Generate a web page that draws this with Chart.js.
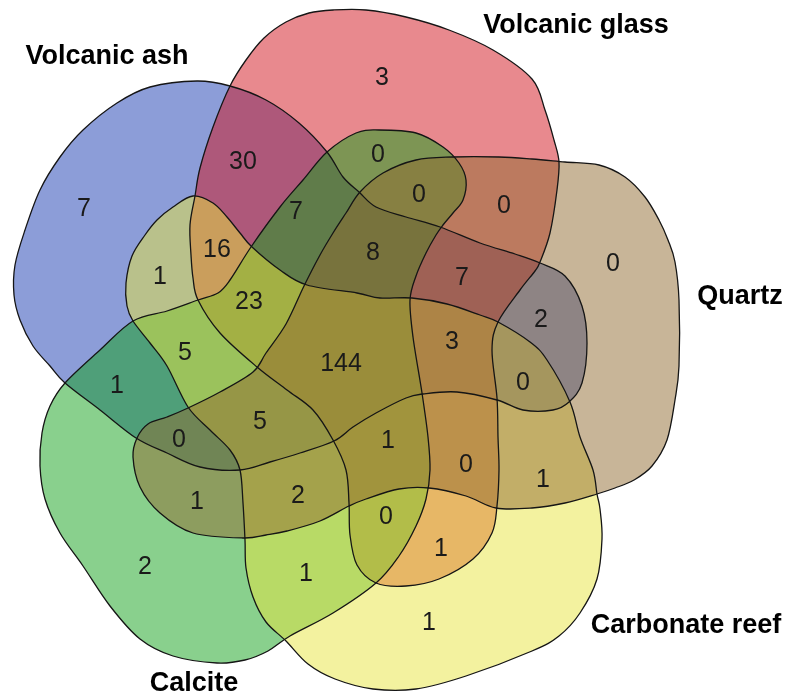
<!DOCTYPE html>
<html>
<head>
<meta charset="utf-8">
<script src="https://cdn.jsdelivr.net/npm/chart.js@4.4.0/dist/chart.umd.min.js"></script>
<style>
  html, body { margin: 0; padding: 0; background: #fff; }
  canvas { display: block; }
</style>
</head>
<body>
<canvas id="venn" width="798" height="699"></canvas>
<script>
// Conjuntos y conteos por region (0=ash, 1=glass, 2=quartz, 3=reef, 4=calcite)
const setNames = ["Volcanic ash", "Volcanic glass", "Quartz", "Carbonate reef", "Calcite"];
const regionSets = [
  [0], [1], [2], [3], [4],
  [0, 1], [1, 4], [1, 2, 4], [1, 2], [0, 1, 4], [0, 1, 3], [0, 1, 2, 4], [0, 1, 2],
  [0, 3], [0, 1, 3, 4], [0, 2], [0, 3, 4], [0, 1, 2, 3, 4], [0, 1, 2, 3], [0, 2, 3],
  [0, 4], [0, 2, 3, 4], [0, 2, 4], [1, 2, 3, 4], [1, 2, 3], [2, 3], [2, 4], [2, 3, 4],
  [1, 3, 4], [1, 3], [3, 4]
];
const regionCounts = [
  7, 3, 0, 1, 2,
  30, 0, 0, 0, 7, 16, 8, 7,
  1, 23, 2, 5, 144, 3, 0,
  1, 5, 0, 1, 0, 1, 1, 2,
  0, 1, 1
];

// Layout: contornos de cada conjunto (coordenadas del lienzo)
const outlines = [
  [[197,81],[150,87],[117,103],[83,130],[60,157],[40,190],[25,230],[15,265],[14,295],[20,320],[33,346],[50,366],[65,383],
   [100,410],[136,438],[167,453],[200,467],[240,470],[270,462],[300,453],[334,441],[353,427],[376,413],[406,398],[423,394],
   [457,392],[497,400],[523,410],[553,410],[569,402],[582,383],[587,343],[582,306],[565,276],[540,263],[515,254],[480,243],
   [440,227],[406,217],[376,207],[359,192],[343,177],[327,152],[299,123],[266,100],[230,86]],
  [[230,86],[246,60],[264,38],[286,22],[309,13],[333,10],[366,10],[406,17],[449,30],[493,50],[532,79],[545,110],[554,140],
   [559,162],[557,190],[550,233],[540,262],[535,271],[520,290],[498,322],[492,350],[497,398],[498,437],[499,470],[497,506],
   [492,533],[473,559],[439,579],[406,586],[376,583],[357,565],[350,535],[349,503],[346,470],[333,440],[313,410],[287,390],
   [257,367],[220,333],[198,300],[193,278],[191,255],[190,225],[195,196],[200,168],[213,127]],
  [[532,159],[565,162],[599,165],[625,177],[645,197],[659,220],[668,240],[675,262],[679,300],[679,366],[675,400],[667,440],
   [652,466],[634,480],[615,488],[597,494],[565,503],[532,508],[496,508],[466,496],[429,488],[399,489],[366,499],[349,506],
   [320,521],[287,531],[266,535],[243,538],[193,533],[160,513],[140,487],[133,457],[137,438],[148,424],[167,417],[188,408],
   [220,392],[253,372],[266,353],[286,324],[304,286],[320,255],[333,233],[346,213],[360,192],[383,173],[416,160],[453,157],[499,157]],
  [[286,641],[308,664],[335,679],[373,689],[416,689],[466,676],[532,651],[559,636],[580,613],[597,579],[602,539],[600,509],
   [597,494],[593,470],[580,437],[570,402],[547,360],[530,342],[498,322],[480,315],[447,304],[412,298],[380,298],[357,293],
   [307,285],[280,270],[252,247],[240,233],[227,217],[213,203],[193,196],[173,207],[157,220],[145,235],[132,256],[126,283],
   [127,306],[133,321],[150,343],[167,366],[188,407],[210,430],[230,450],[240,470],[243,503],[245,540],[246,568],[253,597],[266,622]],
  [[65,383],[50,406],[42,433],[40,466],[45,499],[60,533],[83,566],[110,606],[140,639],[173,656],[217,663],[245,660],[268,651],
   [290,636],[333,613],[376,583],[399,556],[416,526],[426,499],[430,470],[428,437],[422,393],[413,337],[410,300],[416,276],
   [426,253],[436,235],[443,225],[453,213],[463,200],[466,180],[459,163],[443,147],[416,133],[379,130],[356,133],[327,152],
   [303,180],[280,207],[251,247],[230,280],[218,293],[198,300],[167,311],[133,321],[100,350]]
];
const labelPos = [
  [84,209],[382,78],[613,264],[429,623],[145,567],
  [243,162],[378,155],[419,195],[504,206],[296,212],[217,250],[373,253],[462,278],
  [160,277],[249,302],[541,320],[185,353],[341,364],[452,342],[523,383],
  [117,386],[260,422],[179,440],[388,441],[466,465],[543,480],[197,502],[298,496],
  [386,517],[441,549],[306,574]
];
const namePos = [[107,57],[576,26],[740,297],[686,626],[194,684]];
const fillColors = [
  "rgba(25,59,177,0.5)", "rgba(209,19,29,0.5)", "rgba(145,107,49,0.5)",
  "rgba(231,229,63,0.5)", "rgba(19,161,27,0.5)"
];
const drawOrder = [0, 1, 4, 3, 2];

// Curva cerrada suave (Catmull-Rom)
function smoothPath(ctx, pts) {
  const n = pts.length;
  ctx.beginPath();
  ctx.moveTo(pts[0].x, pts[0].y);
  for (let i = 0; i < n; i++) {
    const p0 = pts[(i - 1 + n) % n], p1 = pts[i], p2 = pts[(i + 1) % n], p3 = pts[(i + 2) % n];
    ctx.bezierCurveTo(
      p1.x + (p2.x - p0.x) / 6, p1.y + (p2.y - p0.y) / 6,
      p2.x - (p3.x - p1.x) / 6, p2.y - (p3.y - p1.y) / 6,
      p2.x, p2.y
    );
  }
  ctx.closePath();
}

const vennPlugin = {
  id: "vennShapes",
  beforeDatasetsDraw(chart) {
    const ctx = chart.ctx;
    ctx.save();
    const shapes = setNames.map((_, i) => chart.getDatasetMeta(i).data.map(p => ({ x: p.x, y: p.y })));
    drawOrder.forEach(i => {
      smoothPath(ctx, shapes[i]);
      ctx.fillStyle = fillColors[i];
      ctx.fill();
    });
    ctx.strokeStyle = "#151515";
    ctx.lineWidth = 1.3;
    shapes.forEach(pts => { smoothPath(ctx, pts); ctx.stroke(); });
    ctx.restore();
  },
  afterDatasetsDraw(chart) {
    const ctx = chart.ctx;
    const { x, y } = chart.scales;
    ctx.save();
    ctx.fillStyle = "#1a1a1a";
    ctx.textAlign = "center";
    ctx.textBaseline = "middle";
    ctx.font = "25px 'Liberation Sans', Arial, sans-serif";
    const meta = chart.getDatasetMeta(setNames.length);
    meta.data.forEach((p, i) => ctx.fillText(String(regionCounts[i]), p.x, p.y));
    ctx.fillStyle = "#000";
    ctx.font = "bold 27px 'Liberation Sans', Arial, sans-serif";
    setNames.forEach((name, i) => {
      ctx.fillText(name, x.getPixelForValue(namePos[i][0]), y.getPixelForValue(namePos[i][1]));
    });
    ctx.restore();
  }
};

const datasets = setNames.map((name, i) => ({
  label: name,
  data: outlines[i].map(([px, py]) => ({ x: px, y: py })),
  pointRadius: 0,
  showLine: false
}));
datasets.push({
  label: "regiones",
  data: labelPos.map(([px, py], i) => ({ x: px, y: py, sets: regionSets[i] })),
  pointRadius: 0,
  showLine: false
});

new Chart(document.getElementById("venn"), {
  type: "scatter",
  data: { datasets },
  options: {
    responsive: false,
    animation: false,
    layout: { padding: 0 },
    plugins: { legend: { display: false }, tooltip: { enabled: false } },
    scales: {
      x: { type: "linear", min: 0, max: 798, display: false },
      y: { type: "linear", min: 0, max: 699, reverse: true, display: false }
    }
  },
  plugins: [vennPlugin]
});
</script>
</body>
</html>
